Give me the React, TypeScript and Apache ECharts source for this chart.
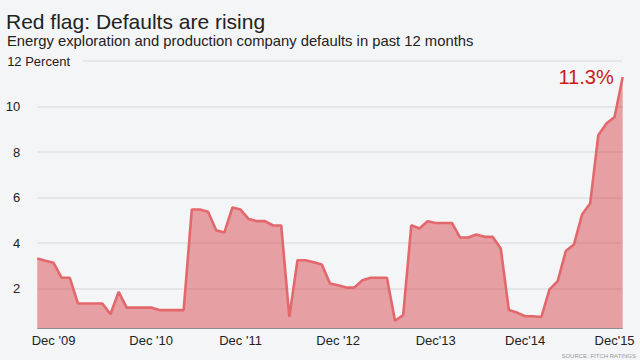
import React, { useEffect, useRef } from "react";
import * as echarts from "echarts";

// Monthly default rate (percent), trailing 12 months
const values = [
  3.32, 3.22, 3.13, 2.47, 2.47, 1.34, 1.34, 1.34, 1.34, 0.87, 1.85, 1.16,
  1.16, 1.16, 1.16, 1.05, 1.05, 1.05, 1.05, 5.47, 5.47, 5.37, 4.56, 4.46,
  5.56, 5.47, 5.05, 4.96, 4.96, 4.77, 4.77, 0.75, 3.24, 3.24, 3.15, 3.05,
  2.22, 2.14, 2.04, 2.04, 2.36, 2.47, 2.47, 2.47, 0.58, 0.83, 4.78, 4.64,
  4.96, 4.88, 4.88, 4.88, 4.24, 4.24, 4.37, 4.27, 4.27, 3.76, 1.05, 0.94,
  0.78, 0.78, 0.75, 1.96, 2.32, 3.65, 3.93, 5.25, 5.74, 8.74, 9.25, 9.54,
  11.3,
];
const categories = values.map((_, i) => String(i));
const tickLabels = ["Dec '09", "Dec '10", "Dec '11", "Dec '12", "Dec'13", "Dec'14", "Dec'15"];
const tickPositions = [2, 14, 25, 37, 49, 60, 71];
const yTicks = [0, 2, 4, 6, 8, 10, 12];
const baseValue = 0.24;

const FONT = "'Liberation Sans', Arial, Helvetica, sans-serif";
const BG = "#f4f5f7";
const GRID = "#e0e1e4";

export default function App() {
  const ref = useRef<HTMLDivElement>(null);
  useEffect(() => {
    if (!ref.current) return;
    const chart = echarts.init(ref.current, null, { renderer: "svg" });
    const last = values.length - 1;
    chart.setOption({
      animation: false,
      backgroundColor: BG,
      textStyle: { fontFamily: FONT },
      title: [
        {
          text: "Red flag: Defaults are rising",
          left: 6,
          top: 11,
          padding: 0,
          textStyle: { fontSize: 21, lineHeight: 21, fontWeight: "normal", color: "#222", fontFamily: FONT },
        },
        {
          text: "Energy exploration and production company defaults in past 12 months",
          left: 7,
          top: 33,
          padding: 0,
          textStyle: { fontSize: 14.8, lineHeight: 15, fontWeight: "normal", color: "#222", fontFamily: FONT },
        },
      ],
      graphic: [
        {
          type: "text",
          right: 4,
          bottom: 1,
          style: { text: "SOURCE: FITCH RATINGS", fontSize: 6, fill: "#999", fontFamily: FONT },
        },
      ],
      grid: { left: 37.3, right: 17.3, top: 61, bottom: 26 },
      xAxis: {
        type: "category",
        data: categories,
        boundaryGap: false,
        axisLine: { show: false },
        axisTick: { show: false },
        splitLine: { show: false },
        axisLabel: {
          interval: (index: number) => tickPositions.includes(index),
          formatter: (_v: string, index: number) => tickLabels[tickPositions.indexOf(index)] ?? "",
          color: "#222",
          fontSize: 13,
          margin: 0,
          fontFamily: FONT,
        },
      },
      yAxis: {
        type: "value",
        min: yTicks[0],
        max: yTicks[yTicks.length - 1],
        interval: 2,
        axisLine: { show: false },
        axisTick: { show: false },
        splitLine: {
          show: true,
          showMinLine: false,
          showMaxLine: false,
          lineStyle: { color: GRID, width: 1.5 },
        },
        axisLabel: {
          formatter: (v: number) => (v === 0 || v === 12 ? "" : String(v)),
          color: "#222",
          fontSize: 13,
          margin: 17,
          align: "right",
          fontFamily: FONT,
        },
      },
      series: [
        {
          type: "line",
          data: values,
          symbol: "none",
          showSymbol: false,
          lineStyle: { color: "#e3686c", width: 2.6 },
          areaStyle: { color: "rgba(212,50,54,0.44)", opacity: 1, origin: baseValue },
          markPoint: {
            silent: true,
            symbol: "circle",
            symbolSize: 2,
            itemStyle: { color: "rgba(0,0,0,0)" },
            data: [
              {
                coord: [last, values[last]],
                label: {
                  show: true,
                  position: "left",
                  distance: 8,
                  formatter: `${values[last]}%`,
                  color: "#cc1a1a",
                  fontSize: 20,
                  fontFamily: FONT,
                },
              },
            ],
          },
          markLine: {
            silent: true,
            symbol: ["none", "none"],
            label: { show: false },
            data: [
              [
                {
                  yAxis: 12,
                  x: 83,
                  lineStyle: { color: GRID, width: 1.5, type: "solid" },
                  label: {
                    show: true,
                    position: "start",
                    distance: 13,
                    formatter: "12 Percent",
                    color: "#222",
                    fontSize: 13,
                    fontFamily: FONT,
                  },
                },
                { yAxis: 12, x: 622 },
              ],
              {
                yAxis: baseValue,
                lineStyle: { color: "#8e8e8e", width: 1, type: "solid" },
              },
            ],
          },
        },
      ],
    });
    return () => chart.dispose();
  }, []);
  return (
    <div
      ref={ref}
      style={{ position: "fixed", left: 0, top: 0, width: 640, height: 360, background: BG }}
    />
  );
}
